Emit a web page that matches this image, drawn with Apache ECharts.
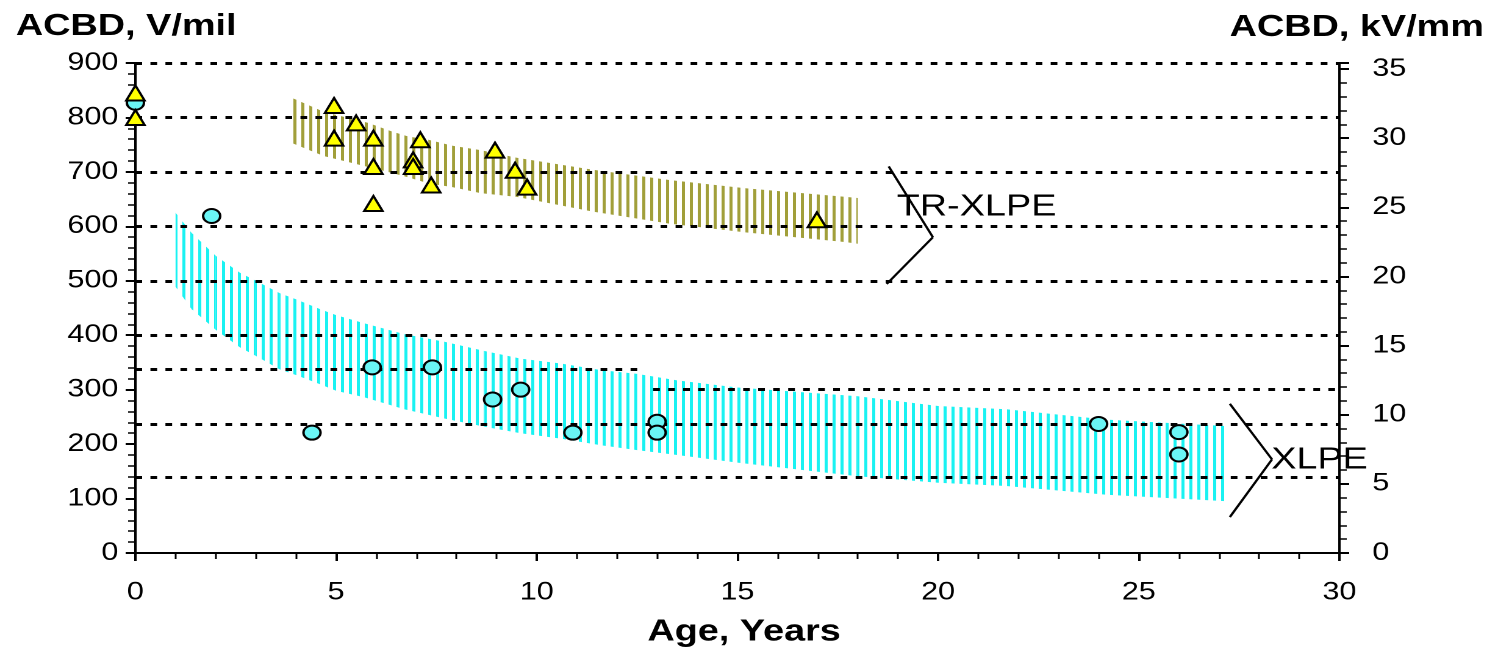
<!DOCTYPE html>
<html>
<head>
<meta charset="utf-8">
<script src="https://cdn.jsdelivr.net/npm/echarts@6/dist/echarts.min.js"></script>
<style>
  html, body { margin: 0; padding: 0; background: #fff; overflow: hidden; }
  /* the source picture is stretched horizontally, so the chart is too */
  #chart { width: 1228px; height: 650px; transform: scaleX(1.21987); transform-origin: 0 0; }
</style>
</head>
<body>
<div id="chart"></div>
<script>
// XLPE field samples (circles)
var xlpeAge  = [0, 1.9, 4.4, 5.9, 7.4, 8.9, 9.6, 10.9, 13.0, 13.0, 24.0, 26.0, 26.0];
var xlpeACBD = [827, 619, 221, 341, 341, 282, 300, 221, 241, 221, 237, 222, 181];

// TR-XLPE field samples (triangles)
var trAge  = [0, 0, 4.95, 4.95, 5.5, 5.93, 5.93, 5.93, 6.92, 6.92, 7.1, 7.37, 8.96, 9.46, 9.76, 16.98];
var trACBD = [845, 800, 822, 762, 790, 762, 710, 642, 722, 710, 759, 676, 740, 703, 672, 612];

// XLPE hatched band
var cyanYears = [1.0, 1.4, 2.0, 2.6, 3.0, 3.6, 4.0, 4.6, 5.0, 5.7, 6.7, 7.7, 8.7, 9.6, 10.6, 11.6, 12.5, 13.5, 15.0, 18.0, 20.0, 21.7, 24.2, 27.2];
var cyanHigh  = [625, 588, 546, 515, 500, 477, 466, 448, 437, 422, 402, 388, 371, 357, 348, 336, 329, 317, 304, 288, 270, 264, 245, 233];
var cyanLow   = [489, 448, 410, 378, 362, 337, 327, 310, 298, 286, 264, 247, 232, 220, 210, 198, 189, 180, 166, 141, 129, 123, 107, 95];

// TR-XLPE hatched band
var oliveYears = [3.9, 4.3, 4.7, 5.2, 5.8, 6.4, 6.8, 7.3, 7.9, 8.6, 9.5, 11.4, 13.3, 15.2, 17.7, 18.0];
var oliveHigh  = [836, 823, 810, 801, 790, 774, 765, 759, 748, 740, 726, 704, 685, 670, 654, 652];
var oliveLow   = [753, 741, 729, 720, 709, 698, 690, 679, 672, 661, 654, 627, 605, 589, 571, 568];

// dashed reference lines (V/mil) and their extent in years
var refLevel = [900, 800, 700, 600, 500, 400, 337, 300, 237, 140];
var refFrom  = [0, 0, 0, 0, 0, 0, 0, 12.9, 0, 0];
var refTo    = [30, 30, 30, 30, 30, 30, 12.7, 30, 30, 30];

// bracket annotations [age, V/mil]
var trBracket   = [[18.77, 710], [19.87, 580], [18.72, 494]];
var xlpeBracket = [[27.27, 274], [28.32, 172], [27.27, 66]];

var VMIL_PER_KVMM = 25.4;
var FONT = "'Liberation Sans', Arial, sans-serif";

function zip(a, b) { return a.map(function (v, i) { return [v, b[i]]; }); }
function zip3(a, b, c) { return a.map(function (v, i) { return [v, b[i], c[i]]; }); }

function hatch(color, w) {
  var c = document.createElement("canvas");
  c.width = 13; c.height = 4;
  var ctx = c.getContext("2d");
  ctx.fillStyle = color;
  ctx.fillRect(0, 0, w, 4);
  return { image: c, repeat: "repeat", scaleX: 0.5, scaleY: 0.5 };
}

// band drawn as quads between consecutive samples, filled with vertical hatching
function bandSeries(xs, hi, lo, fill) {
  return {
    type: "custom", z: 2, silent: true,
    data: zip3(xs, hi, lo),
    encode: { x: 0, y: [1, 2] },
    renderItem: function (params, api) {
      var i = params.dataIndex;
      if (i >= xs.length - 1) return;
      var pts = [
        api.coord([xs[i], hi[i]]),
        api.coord([xs[i + 1], hi[i + 1]]),
        api.coord([xs[i + 1], lo[i + 1]]),
        api.coord([xs[i], lo[i]])
      ];
      return { type: "polygon", shape: { points: pts }, style: { fill: fill } };
    }
  };
}

function segs(points) {
  var out = [];
  for (var i = 0; i < points.length - 1; i++) {
    out.push([{ coord: points[i] }, { coord: points[i + 1] }]);
  }
  return out;
}

var tickStyle = { color: "#000", width: 2 };
var labelStyle = { color: "#000", fontSize: 25, fontFamily: FONT };

var chart = echarts.init(document.getElementById("chart"), null, { renderer: "canvas", devicePixelRatio: 2 });

var option = {
  animation: false,
  grid: { left: 111, right: 130, top: 63, bottom: 97 },
  xAxis: {
    type: "value", min: 0, max: 30, interval: 5,
    axisLine: { lineStyle: tickStyle },
    axisTick: { length: 8, lineStyle: tickStyle },
    minorTick: { show: true, splitNumber: 5, length: 6, lineStyle: { color: "#000", width: 1.5 } },
    splitLine: { show: false },
    axisLabel: Object.assign({ margin: 27 }, labelStyle)
  },
  yAxis: [
    {
      type: "value", min: 0, max: 900, interval: 100, position: "left",
      axisLine: { show: true, lineStyle: tickStyle },
      axisTick: { show: true, length: 8, lineStyle: tickStyle },
      minorTick: { show: true, splitNumber: 5, length: 6, lineStyle: { color: "#000", width: 1.5 } },
      splitLine: { show: false },
      axisLabel: Object.assign({ margin: 14 }, labelStyle)
    },
    {
      type: "value", min: 0, max: 900 / VMIL_PER_KVMM, interval: 5, position: "right",
      axisLine: { show: true, lineStyle: tickStyle },
      axisTick: { show: true, length: 8, lineStyle: tickStyle },
      minorTick: { show: true, splitNumber: 5, length: 6, lineStyle: { color: "#000", width: 1.5 } },
      splitLine: { show: false },
      axisLabel: Object.assign({ margin: 27, showMaxLabel: false }, labelStyle)
    }
  ],
  series: [
    bandSeries(cyanYears, cyanHigh, cyanLow, hatch("#19f2f2", 5)),
    bandSeries(oliveYears, oliveHigh, oliveLow, hatch("#a19f3a", 5)),
    {
      type: "scatter", z: 3, silent: true, data: [],
      markLine: {
        silent: true, symbol: ["none", "none"], label: { show: false },
        lineStyle: { color: "#000", width: 3, type: [5.5, 6.8] },
        data: refLevel.map(function (v, i) {
          return [{ coord: [refFrom[i], v] }, { coord: [refTo[i], v] }];
        })
      }
    },
    {
      type: "scatter", z: 3, silent: true, data: [],
      markLine: {
        silent: true, symbol: ["none", "none"], label: { show: false },
        lineStyle: { color: "#000", width: 2, type: "solid" },
        data: segs(trBracket).concat(segs(xlpeBracket))
      }
    },
    {
      name: "XLPE", type: "scatter", z: 5, symbol: "circle", symbolSize: 14,
      itemStyle: { color: "#6af5f5", borderColor: "#000", borderWidth: 2, opacity: 1 },
      data: zip(xlpeAge, xlpeACBD)
    },
    {
      name: "TR-XLPE", type: "scatter", z: 5, symbol: "triangle", symbolSize: 15,
      itemStyle: { color: "#ffff00", borderColor: "#000", borderWidth: 2, opacity: 1 },
      data: zip(trAge, trACBD)
    }
  ]
};

chart.setOption(option);

var trPos = chart.convertToPixel({ gridIndex: 0 }, [18.97, 636]);
var xlpePos = chart.convertToPixel({ gridIndex: 0 }, [28.3, 171]);

chart.setOption({
  graphic: [
    { type: "text", left: 13, top: 11, style: { text: "ACBD, V/mil", font: "bold 31px " + FONT, fill: "#000" } },
    { type: "text", left: 1008, top: 12, style: { text: "ACBD, kV/mm", font: "bold 31px " + FONT, fill: "#000" } },
    { type: "text", x: 610, y: 632, style: { text: "Age, Years", font: "bold 31px " + FONT, fill: "#000", align: "center", verticalAlign: "middle" } },
    { type: "text", x: trPos[0], y: trPos[1], z: 10, style: { text: "TR-XLPE", font: "31px " + FONT, fill: "#000", align: "left", verticalAlign: "middle" } },
    { type: "text", x: xlpePos[0], y: xlpePos[1], z: 10, style: { text: "XLPE", font: "31px " + FONT, fill: "#000", align: "left", verticalAlign: "middle" } }
  ]
});
</script>
</body>
</html>
